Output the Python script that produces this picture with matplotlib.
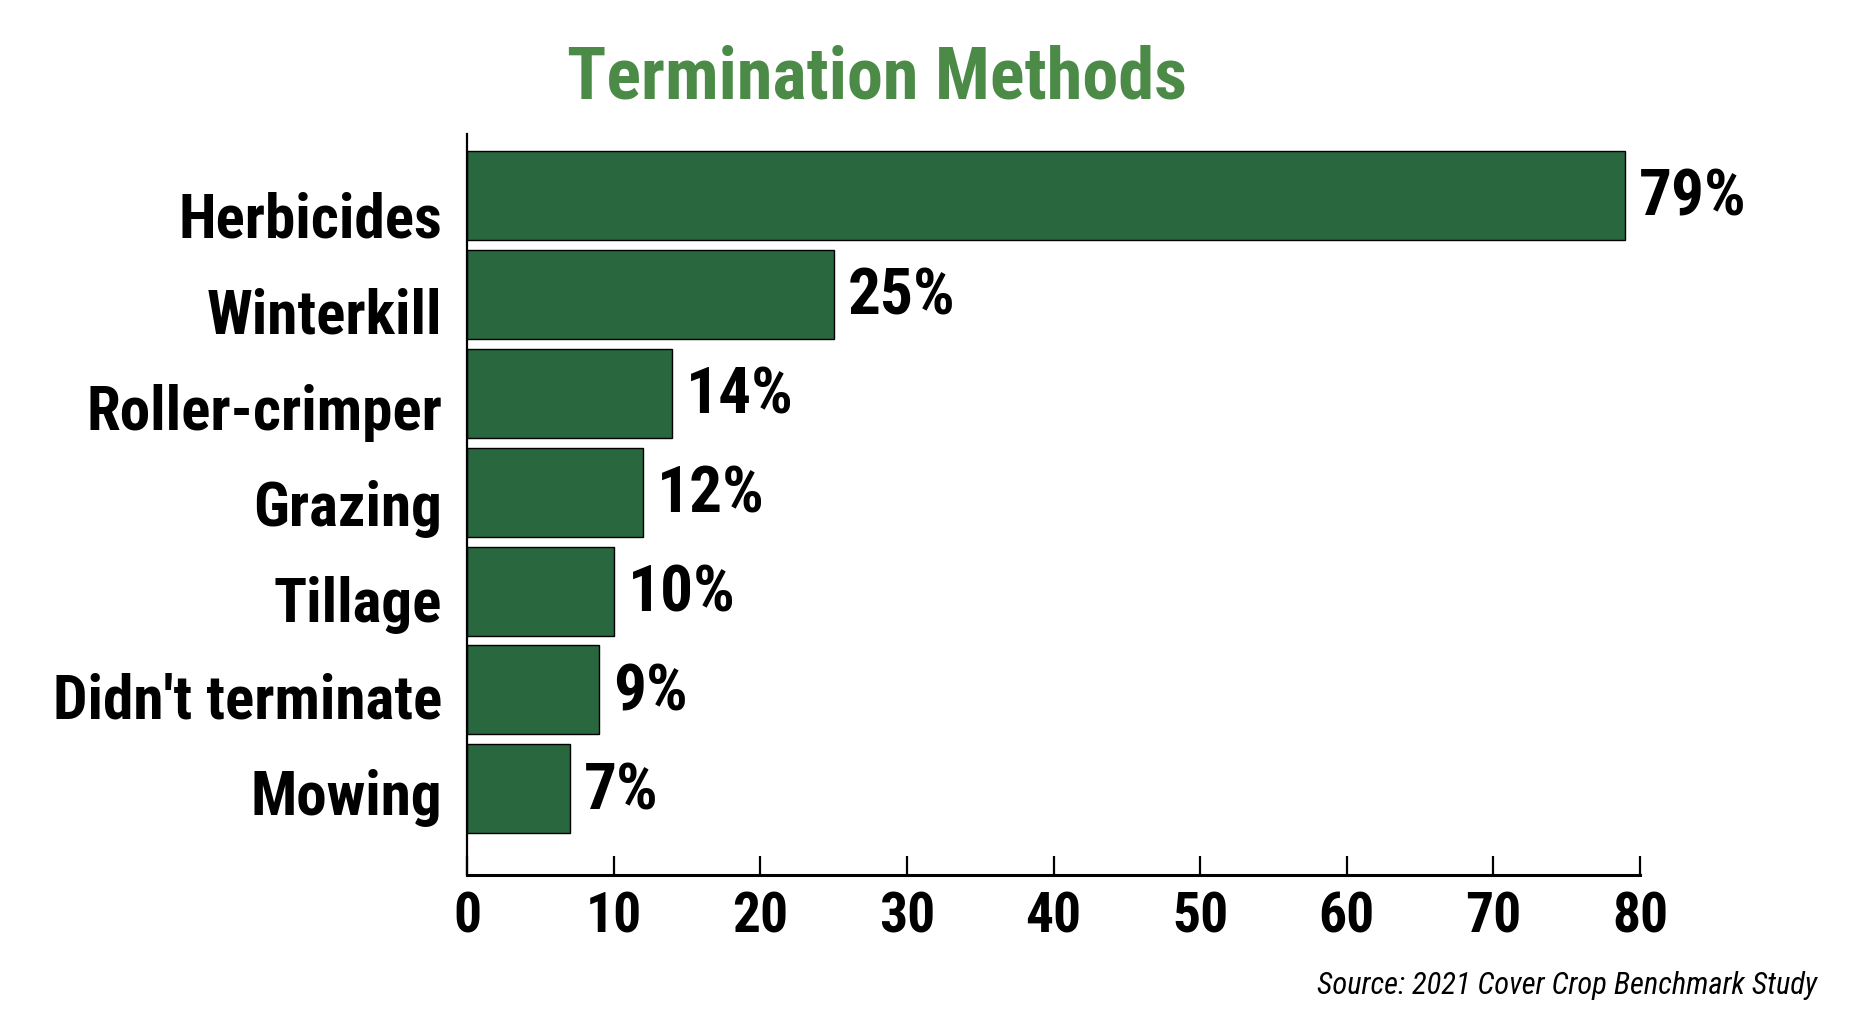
import matplotlib
matplotlib.use("Agg")
import matplotlib.pyplot as plt
from matplotlib import font_manager

methods = ["Herbicides", "Winterkill", "Roller-crimper", "Grazing",
           "Tillage", "Didn't terminate", "Mowing"]
shares = [79, 25, 14, 12, 10, 9, 7]
x_ticks = [0, 10, 20, 30, 40, 50, 60, 70, 80]

# pick a condensed family if one is installed
names = {f.name for f in font_manager.fontManager.ttflist}
family = "DejaVu Sans"
for cand in ["Roboto Condensed", "Liberation Sans Narrow", "DejaVu Sans Condensed"]:
    if cand in names:
        family = cand
        break
plt.rcParams["font.family"] = family

bar_color = "#29673f"
title_color = "#4b8a47"

fig = plt.figure(figsize=(18.62, 10.18), dpi=100)
ax = fig.add_axes([0.2508, 0.1405, 0.63, 0.7279])

pos = list(range(len(methods)))
ax.barh(pos, shares, height=0.9, color=bar_color, edgecolor="black", linewidth=1)

for p, v in zip(pos, shares):
    ax.annotate(f"{v}%", (v, p), xytext=(10, -2), textcoords="offset points",
                ha="left", va="center", fontsize=47, fontweight="bold")

ax.set_xlim(0, 80)
ax.set_ylim(6.87, -0.62)
ax.set_xticks(x_ticks)
ax.set_xticklabels([str(t) for t in x_ticks], fontsize=40, fontweight="bold")
# labels sit a little lower than the bar centres in the original
ax.set_yticks([0.19 + 0.973 * p for p in pos])
ax.set_yticklabels(methods, fontsize=44, fontweight="bold")
ax.tick_params(axis="x", direction="in", length=14, width=1.6, pad=12)
ax.tick_params(axis="y", length=0, pad=18)

for s in ["top", "right"]:
    ax.spines[s].set_visible(False)
ax.spines["left"].set_linewidth(1.6)
ax.spines["bottom"].set_linewidth(2.2)

fig.text(0.471, 0.922, "Termination Methods", ha="center", va="center",
         fontsize=52, fontweight="bold", color=title_color)
fig.text(0.976, 0.032, "Source: 2021 Cover Crop Benchmark Study", ha="right",
         va="center", fontsize=22, style="italic")

fig.savefig("out.png", dpi=100)
